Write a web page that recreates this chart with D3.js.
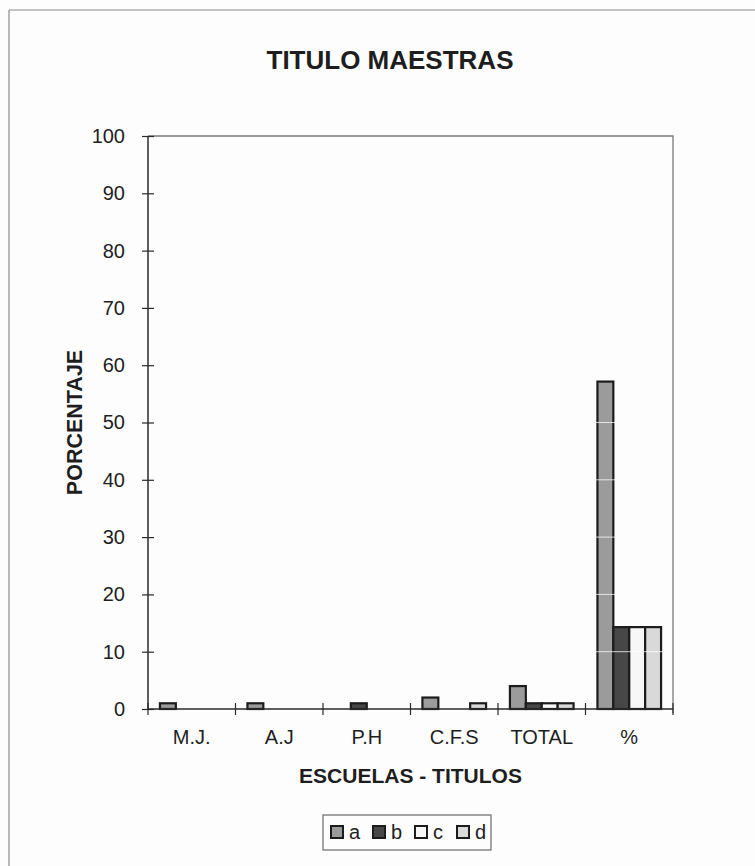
<!DOCTYPE html>
<html>
<head>
<meta charset="utf-8">
<script src="https://cdn.jsdelivr.net/npm/d3@7"></script>
<style>
  html, body { margin: 0; padding: 0; background: #fdfdfd; }
  svg { display: block; }
  text { font-family: "Liberation Sans", Arial, sans-serif; fill: #1e1e1e; }
</style>
</head>
<body>
<svg id="chart" width="755" height="866"></svg>
<script>
// ---- data ----
const categories = ["M.J.", "A.J", "P.H", "C.F.S", "TOTAL", "%"];
const seriesNames = ["a", "b", "c", "d"];
const valuesA = [1, 1, 0, 2, 4, 57.14];
const valuesB = [0, 0, 1, 0, 1, 14.29];
const valuesC = [0, 0, 0, 0, 1, 14.29];
const valuesD = [0, 0, 0, 1, 1, 14.29];
const yTicks = [0, 10, 20, 30, 40, 50, 60, 70, 80, 90, 100];
const titleText = "TITULO MAESTRAS";
const xTitle = "ESCUELAS - TITULOS";
const yTitle = "PORCENTAJE";
const seriesColors = ["#9b9b9b", "#474747", "#f7f7f7", "#d9d9d9"];

const seriesValues = [valuesA, valuesB, valuesC, valuesD];
const FONT = '"Liberation Sans", Arial, sans-serif';

const svg = d3.select("#chart");

// outer chart border (top and left visible)
svg.append("line").attr("x1", 9).attr("y1", 10).attr("x2", 755).attr("y2", 10)
  .attr("stroke", "#8a8a8a").attr("stroke-width", 1.2);
svg.append("line").attr("x1", 9).attr("y1", 10).attr("x2", 9).attr("y2", 866)
  .attr("stroke", "#8a8a8a").attr("stroke-width", 1.2);

const pLeft = 148, pRight = 673, pTop = 136, pBottom = 709;

const x0 = d3.scaleBand().domain(categories).range([pLeft, pRight]).paddingInner(0).paddingOuter(0);
const x1 = d3.scaleBand().domain(seriesNames).range([0, x0.bandwidth()]).paddingInner(0).paddingOuter(0.75);
const y = d3.scaleLinear().domain([0, 100]).range([pBottom, pTop]);
const color = d3.scaleOrdinal().domain(seriesNames).range(seriesColors);

// plot area frame (top and right)
svg.append("path")
  .attr("d", `M${pLeft},${pTop}H${pRight}V${pBottom + 4}`)
  .attr("fill", "none").attr("stroke", "#7a7a7a").attr("stroke-width", 1.3);

// bars
const rows = [];
categories.forEach((c, i) => {
  seriesNames.forEach((s, j) => {
    const v = seriesValues[j][i];
    if (v > 0) rows.push({ cat: c, s: s, v: v });
  });
});

svg.append("g").selectAll("rect").data(rows).join("rect")
  .attr("x", d => x0(d.cat) + x1(d.s))
  .attr("y", d => y(d.v))
  .attr("width", x1.bandwidth())
  .attr("height", d => y(0) - y(d.v))
  .attr("fill", d => color(d.s))
  .attr("stroke", "#1c1c1c")
  .attr("stroke-width", 2.2);

// faint white scan lines at gridline positions over bars
svg.append("g").selectAll("line").data(yTicks.filter(t => t > 0 && t < 100)).join("line")
  .attr("x1", pLeft + 1).attr("x2", pRight - 1)
  .attr("y1", d => y(d)).attr("y2", d => y(d))
  .attr("stroke", "#ffffff").attr("stroke-width", 1).attr("opacity", 0.75);

// y axis
const yAxis = svg.append("g").attr("transform", `translate(${pLeft},0)`)
  .call(d3.axisLeft(y).tickValues(yTicks).tickSize(6).tickPadding(17).tickFormat(d3.format("d")));
yAxis.select(".domain").attr("stroke", "#2a2a2a").attr("stroke-width", 1.5).attr("d", `M0,${pTop}V${pBottom}`);
yAxis.selectAll(".tick line").attr("x1", -6).attr("x2", 6).attr("stroke", "#2a2a2a").attr("stroke-width", 1.2);
yAxis.selectAll(".tick text").style("font-size", "20px").style("font-family", FONT).attr("fill", "#1e1e1e");

// x axis (labels)
const xAxis = svg.append("g").attr("transform", `translate(0,${pBottom})`)
  .call(d3.axisBottom(x0).tickSize(0).tickPadding(21));
xAxis.select(".domain").attr("stroke", "#2a2a2a").attr("stroke-width", 1.5).attr("d", `M${pLeft},0H${pRight}`);
xAxis.selectAll(".tick text").style("font-size", "20px").style("font-family", FONT).attr("fill", "#1e1e1e");

// x boundary ticks (crossing)
const boundaries = categories.map(c => x0(c)).concat([x0(categories[categories.length - 1]) + x0.bandwidth()]);
svg.append("g").selectAll("line").data(boundaries).join("line")
  .attr("x1", d => d).attr("x2", d => d)
  .attr("y1", pBottom - 6).attr("y2", pBottom + 6)
  .attr("stroke", "#2a2a2a").attr("stroke-width", 1.2);

// titles
svg.append("text").attr("x", 390).attr("y", 69).attr("text-anchor", "middle")
  .style("font-size", "26px").style("font-weight", "bold").text(titleText);
svg.append("text").attr("x", (pLeft + pRight) / 2).attr("y", 783).attr("text-anchor", "middle")
  .style("font-size", "21px").style("font-weight", "bold").text(xTitle);
svg.append("text").attr("transform", `translate(82,${(pTop + pBottom) / 2}) rotate(-90)`)
  .attr("text-anchor", "middle")
  .style("font-size", "21.5px").style("font-weight", "bold").text(yTitle);

// legend
const lg = svg.append("g");
lg.append("rect").attr("x", 323).attr("y", 815).attr("width", 168).attr("height", 35)
  .attr("fill", "none").attr("stroke", "#6a6a6a").attr("stroke-width", 1.2);
const item = lg.selectAll("g.item").data(seriesNames).join("g").attr("class", "item")
  .attr("transform", (d, i) => `translate(${331 + i * 42},826)`);
item.append("rect").attr("width", 12).attr("height", 12)
  .attr("fill", d => color(d)).attr("stroke", "#1c1c1c").attr("stroke-width", 2);
item.append("text").attr("x", 18).attr("y", 13).style("font-size", "20px").text(d => d);
</script>
</body>
</html>
